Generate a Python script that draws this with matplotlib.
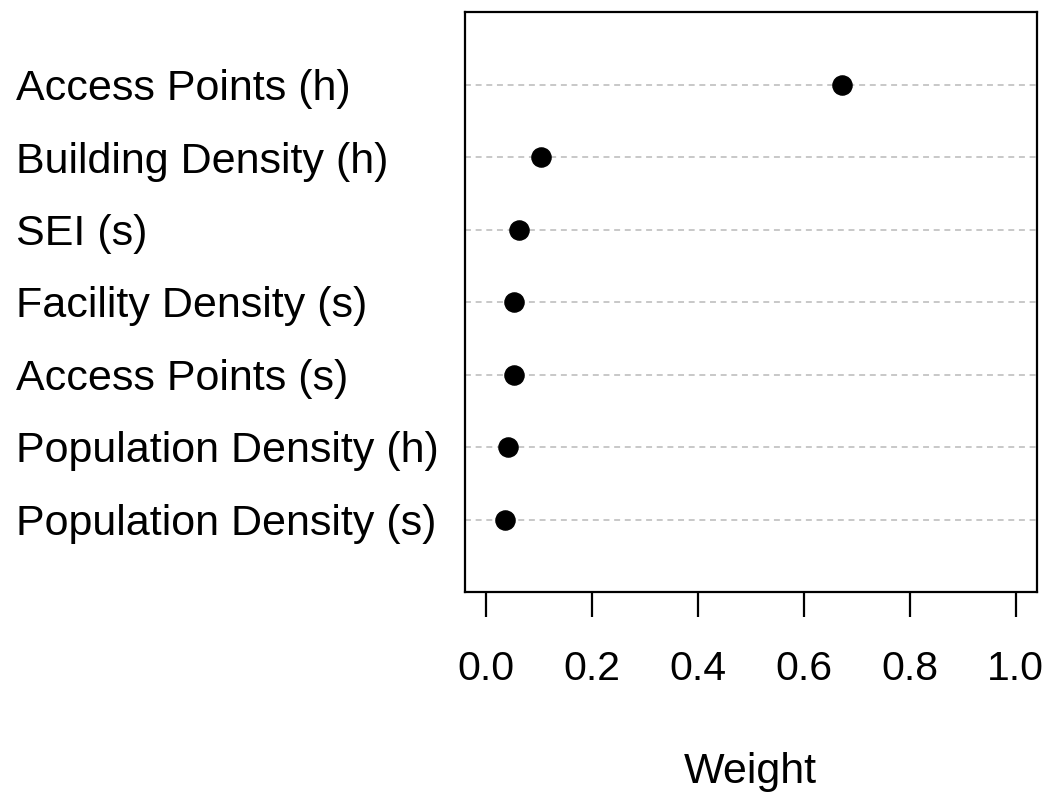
import matplotlib
matplotlib.use("Agg")
import matplotlib.pyplot as plt
import matplotlib.transforms as mtransforms

# variables, du bas vers le haut (ordre du dotchart)
variables = ["Population Density (s)", "Population Density (h)", "Access Points (s)",
             "Facility Density (s)", "SEI (s)", "Building Density (h)", "Access Points (h)"]
poids = [0.036, 0.042, 0.053, 0.053, 0.062, 0.104, 0.672]
ticks_x = [0.0, 0.2, 0.4, 0.6, 0.8, 1.0]

plt.rcParams['font.family'] = ['Liberation Sans', 'DejaVu Sans']

fig = plt.figure(figsize=(10.51, 7.95), dpi=100)
ax = fig.add_axes([465 / 1051, 1 - 592 / 795, (1036.7 - 465) / 1051, (592 - 12) / 795])

rangs = list(range(1, len(variables) + 1))

# lignes pointillées de repère
for y in rangs:
    ax.axhline(y, color='#C4C4C4', lw=1.3, linestyle=(0, (3.3, 2.6)), zorder=1)

ax.plot(poids, rangs, 'o', color='black', markersize=13.8, zorder=3)

ax.set_xlim(-0.04, 1.04)
ax.set_ylim(0, len(variables) + 1)
ax.set_yticks([])
ax.set_xticks(ticks_x)
ax.set_xticklabels(["%.1f" % t for t in ticks_x])
ax.tick_params(axis='x', length=18, width=1.6, pad=24, labelsize=29.5, color='black')
for s in ax.spines.values():
    s.set_linewidth(1.6)

ax.set_xlabel("Weight", fontsize=31, labelpad=46)

# étiquettes alignées à gauche dans la marge
trans = mtransforms.blended_transform_factory(fig.transFigure, ax.transData)
for y, nom in zip(rangs, variables):
    fig.text(16 / 1051, y, nom, transform=trans, ha='left', va='center_baseline', fontsize=31)

fig.savefig("out.png", dpi=100)
